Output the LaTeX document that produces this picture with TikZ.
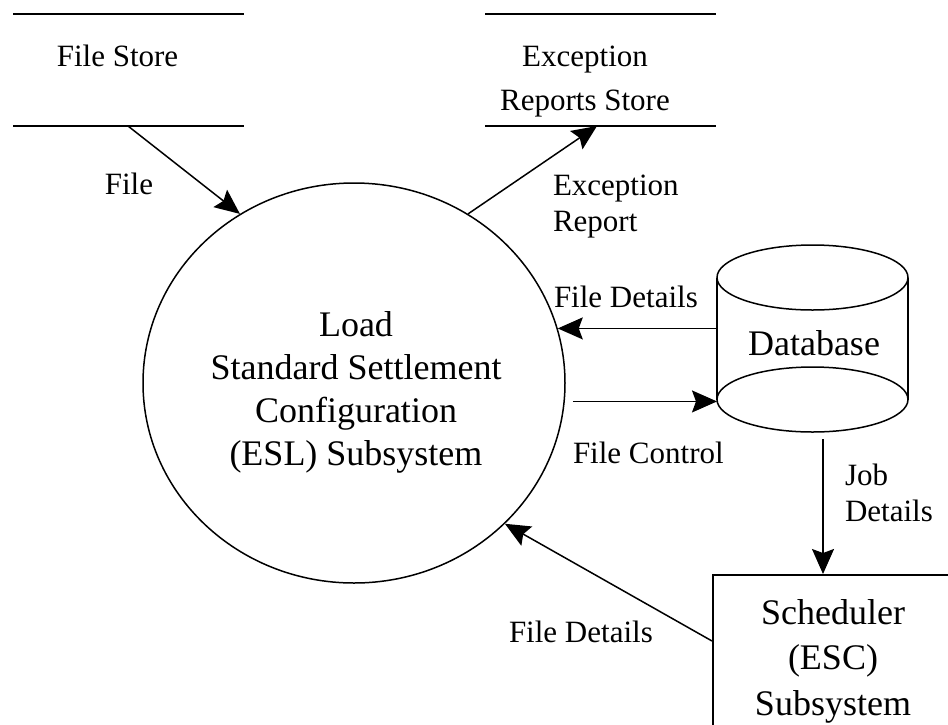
\documentclass[tikz,border=0pt]{standalone}
\usepackage{fontspec}
\setmainfont{Liberation Serif}
\usetikzlibrary{arrows.meta,shapes.geometric,calc}
\newcommand\mltc[1]{\begin{tabular}[t]{@{}c@{}}#1\end{tabular}}
\newcommand\mltl[1]{\begin{tabular}[t]{@{}l@{}}#1\end{tabular}}
\tikzset{
  txt/.style={inner sep=0pt, outer sep=0pt},
  lab/.style={txt, font=\fontsize{31}{36}\selectfont},
  storetxt/.style={txt, font=\fontsize{31}{44}\selectfont},
  big/.style={txt, font=\fontsize{36}{43}\selectfont},
  schtxt/.style={txt, font=\fontsize{36}{45.5}\selectfont},
  conn/.style={line width=1.5pt, -{Stealth[length=25pt,width=22pt,inset=4pt]}},
  storeline/.style={line width=2pt},
  shapeline/.style={line width=1.5pt},
  hidden/.style={inner sep=0pt, outer sep=0pt, draw=none},
}
\begin{document}
\begin{tikzpicture}[x=1pt,y=-1pt]
\useasboundingbox[fill=white] (0,0) rectangle (948,724);

% process (ellipse-like circle)
\node[shapeline, draw, ellipse, minimum width=422pt, minimum height=400pt, inner sep=0pt] (proc) at (354,383) {};
\node[big, anchor=base] (proctxt) at (356,336) {\mltc{Load\\Standard Settlement\\Configuration\\(ESL) Subsystem}};

% stores
\node[hidden, minimum width=231pt, minimum height=112pt] (fs) at (128.5,70) {};
\draw[storeline] (fs.north west) -- (fs.north east);
\draw[storeline] (fs.south west) -- (fs.south east);
\node[storetxt, anchor=base] (fstxt) at (117.5,66) {File Store};

\node[hidden, minimum width=231pt, minimum height=112pt] (er) at (600.5,70) {};
\draw[storeline] (er.north west) -- (er.north east);
\draw[storeline] (er.south west) -- (er.south east);
\node[storetxt, anchor=base] (ertxt) at (585,66) {\mltc{Exception\\Reports Store}};

% database cylinder
\node[hidden, minimum width=191pt, minimum height=187pt] (db) at (812.5,338.5) {};
\draw[shapeline] ([yshift=-32.5pt]db.north) ellipse [x radius=95.5pt, y radius=32.5pt];
\draw[shapeline] ([yshift=32.5pt]db.south) ellipse [x radius=95.5pt, y radius=32.5pt];
\draw[shapeline] ([yshift=-32.5pt]db.north west) -- ([yshift=32.5pt]db.south west);
\draw[shapeline] ([yshift=-32.5pt]db.north east) -- ([yshift=32.5pt]db.south east);
\node[big, anchor=base] (dbtxt) at (814,355) {Database};

% scheduler box
\node[shapeline, draw, minimum width=242pt, minimum height=200pt, inner sep=0pt, anchor=north west] (sch) at (712,574) {};
\node[schtxt, anchor=base] (schtxt) at (833,624) {\mltc{Scheduler\\(ESC)\\Subsystem}};

% connectors
\draw[conn] ([xshift=-0.5pt]fs.south) -- (proc.124.5);
\node[lab, anchor=base] (lfile) at (129,194) {File};

\draw[conn] (proc.56.9) -- ([xshift=-3.5pt]er.south);
\node[lab, anchor=base west] (lexc) at (553,195) {\mltl{Exception\\Report}};

\draw[conn] (db.west |- proc.15.6) -- (proc.15.6);
\node[lab, anchor=base west] (lfd1) at (554,307) {File Details};

\coordinate (fctail) at ([xshift=8pt]proc.-5);
\draw[conn] (fctail) -- (db.west |- fctail);
\node[lab, anchor=base west] (lfc) at (573,463) {File Control};

\coordinate (jobtail) at ([xshift=10.5pt,yshift=-7pt]db.south);
\draw[conn] (jobtail) -- (jobtail |- sch.north);
\node[lab, anchor=base west] (ljob) at (845,485) {\mltl{Job\\Details}};

\coordinate (fd2tail) at (sch.north west |- 0,641);
\draw[conn] (fd2tail) -- (proc.-43);
\node[lab, anchor=base west] (lfd2) at (509,642) {File Details};
\end{tikzpicture}
\end{document}
